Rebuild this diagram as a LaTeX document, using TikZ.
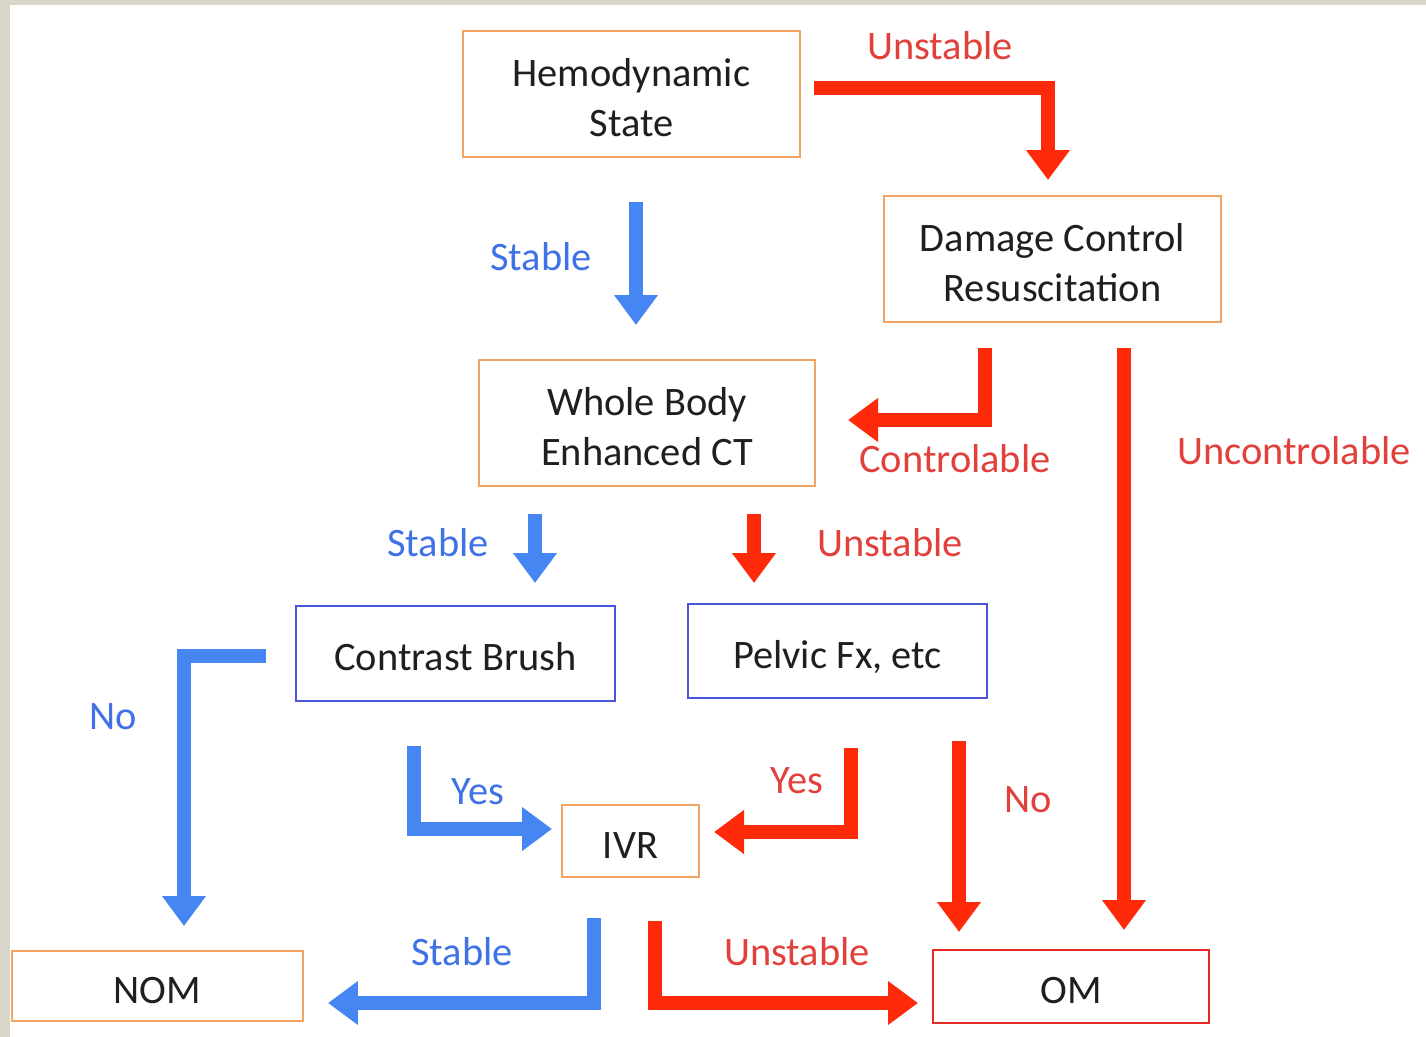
\documentclass[tikz,border=0pt]{standalone}
\usepackage{fontspec}
\setmainfont{Carlito}
\usetikzlibrary{arrows.meta}

\definecolor{boxorange}{HTML}{F2A463}
\definecolor{boxblue}{HTML}{4A55D8}
\definecolor{boxred}{HTML}{E42A24}
\definecolor{arrred}{HTML}{FF2A0A}
\definecolor{arrblue}{HTML}{4686F2}
\definecolor{txtred}{HTML}{E2403A}
\definecolor{txtblue}{HTML}{3E72E6}
\definecolor{framegray}{HTML}{D9D7C9}

% box text, set a little below the box centre
\newcommand{\boxlines}[1]{\raisebox{-0.36cm}[0pt][0pt]{\begin{tabular}{@{}c@{}}#1\end{tabular}}}

\tikzset{
  box/.style={draw=boxorange, line width=1.6pt, inner sep=0pt,
    font=\fontsize{23}{28.5}\selectfont, text=black!88},
  bluebox/.style={box, draw=boxblue, line width=1.2pt},
  redbox/.style={box, draw=boxred},
  flow/.style={line width=8pt, line join=miter, -{Triangle[width=0.84cm,length=0.6cm]}},
  redflow/.style={flow, draw=arrred},
  blueflow/.style={flow, draw=arrblue},
  lbl/.style={font=\fontsize{23}{28}\selectfont},
  redlbl/.style={lbl, text=txtred},
  bluelbl/.style={lbl, text=txtblue}
}

\begin{document}
\begin{tikzpicture}[x=0.02cm, y=-0.02cm]
            % Background and frame
            \fill[white] (0,0) rectangle (1426,1037);
            \useasboundingbox (0,0) rectangle (1426,1037);
            \fill[framegray] (0,0) rectangle (10,1037);
            \fill[framegray] (0,0) rectangle (1426,5);

            % Boxes
            \node[box, minimum width=6.74cm, minimum height=2.52cm] (hemo) at (631.5,94) {\boxlines{Hemodynamic\\State}};
            \node[box, minimum width=6.74cm, minimum height=2.52cm] (dcr) at (1052.5,259) {\boxlines{Damage Control\\Resuscitation}};
            \node[box, minimum width=6.72cm, minimum height=2.52cm] (wbct) at (647,423) {\boxlines{Whole Body\\Enhanced CT}};
            \node[bluebox, minimum width=6.38cm, minimum height=1.9cm] (brush) at (455.5,653.5) {\boxlines{Contrast Brush}};
            \node[bluebox, minimum width=5.98cm, minimum height=1.88cm] (pelvic) at (837.5,651) {\boxlines{Pelvic Fx, etc}};
            \node[box, minimum width=2.74cm, minimum height=1.44cm] (ivr) at (630.5,841) {\boxlines{IVR}};
            \node[box, minimum width=5.82cm, minimum height=1.4cm] (nom) at (157.5,986) {\boxlines{NOM}};
            \node[redbox, minimum width=5.52cm, minimum height=1.46cm] (om) at (1071,986.5) {\boxlines{OM}};

            % Arrow ends
            \coordinate (hemo-out) at (814,88);
            \coordinate (dcr-in) at (1048,180);
            \coordinate (hemo-down) at (636,202);
            \coordinate (wbct-in) at (636,325);
            \coordinate (dcr-ctrl) at (985,348);
            \coordinate (wbct-ctrl) at (848,420);
            \coordinate (dcr-unctrl) at (1124,348);
            \coordinate (om-unctrl) at (1124,930);
            \coordinate (wbct-st) at (535,514);
            \coordinate (brush-in) at (535,583);
            \coordinate (wbct-un) at (754,514);
            \coordinate (pelvic-in) at (754,583);
            \coordinate (brush-no) at (266,656);
            \coordinate (nom-no) at (184,926);
            \coordinate (brush-yes) at (414,746);
            \coordinate (ivr-yesl) at (552,829);
            \coordinate (pelvic-yes) at (851,748);
            \coordinate (ivr-yesr) at (714,832);
            \coordinate (pelvic-no) at (959,741);
            \coordinate (om-no) at (959,932);
            \coordinate (ivr-st) at (594,918);
            \coordinate (nom-st) at (328,1003);
            \coordinate (ivr-un) at (655,921);
            \coordinate (om-un) at (918,1003);

            % Arrows
            \draw[redflow] (hemo-out) -| (dcr-in);
            \draw[blueflow] (hemo-down) -- (wbct-in);
            \draw[redflow] (dcr-ctrl) |- (wbct-ctrl);
            \draw[redflow] (dcr-unctrl) -- (om-unctrl);
            \draw[blueflow] (wbct-st) -- (brush-in);
            \draw[redflow] (wbct-un) -- (pelvic-in);
            \draw[blueflow] (brush-no) -| (nom-no);
            \draw[blueflow] (brush-yes) |- (ivr-yesl);
            \draw[redflow] (pelvic-yes) |- (ivr-yesr);
            \draw[redflow] (pelvic-no) -- (om-no);
            \draw[blueflow] (ivr-st) |- (nom-st);
            \draw[redflow] (ivr-un) |- (om-un);

            % Labels
            \node[redlbl] (l-unst1) at (940,46) {Unstable};
            \node[bluelbl] (l-st1) at (541,257) {Stable};
            \node[redlbl] (l-ctrl) at (955,459) {Controlable};
            \node[redlbl] (l-unctrl) at (1294,451) {Uncontrolable};
            \node[bluelbl] (l-st2) at (438,543) {Stable};
            \node[redlbl] (l-unst2) at (890,543) {Unstable};
            \node[bluelbl] (l-no1) at (113,717) {No};
            \node[bluelbl] (l-yes1) at (478,792) {Yes};
            \node[redlbl] (l-yes2) at (797,781) {Yes};
            \node[redlbl] (l-no2) at (1028,800) {No};
            \node[bluelbl] (l-st3) at (462,952) {Stable};
            \node[redlbl] (l-unst3) at (797,952) {Unstable};
        \end{tikzpicture}
\end{document}
